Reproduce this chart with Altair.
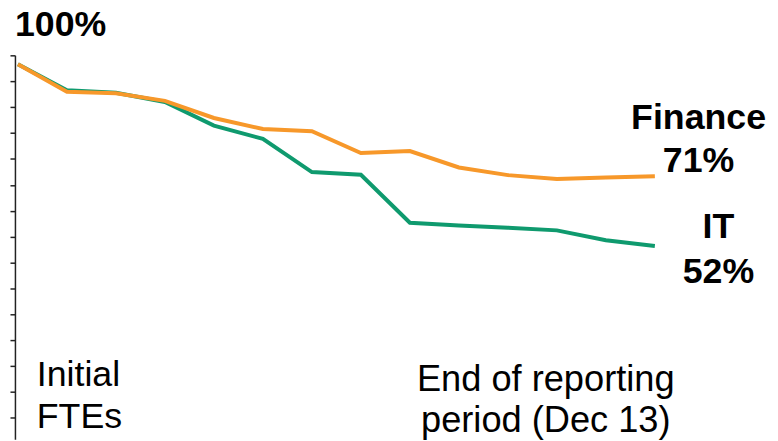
import altair as alt
import pandas as pd

# ---- data ----
steps = list(range(14))
it_values = [100, 93.2, 92.5, 90.1, 83.9, 80.4, 71.7, 71.0, 58.4, 57.7, 57.1, 56.4, 53.8, 52.3]
finance_values = [100, 92.8, 92.4, 90.4, 85.9, 83.0, 82.4, 76.7, 77.2, 72.9, 70.9, 69.9, 70.3, 70.6]
series_names = ["IT", "Finance"]
series_colors = ["#0F9A6E", "#F7982A"]

# ---- scale configuration ----
PLOT_H = 387
PX_PER_UNIT = 3.84
Y_TOP = 102.34
Y_BOTTOM = Y_TOP - PLOT_H / PX_PER_UNIT
TICK_STEP = 6.797
tick_values = [round(Y_TOP - TICK_STEP * k, 3) for k in range(15)]
X_MIN = -0.0608
X_MAX = 15.35

df_it = pd.DataFrame({"step": steps, "value": it_values, "series": "IT"})
df_fin = pd.DataFrame({"step": steps, "value": finance_values, "series": "Finance"})

FONT = "Liberation Sans"

x_enc = alt.X("step:Q", scale=alt.Scale(domain=[X_MIN, X_MAX], nice=False, zero=False), axis=None)
y_enc = alt.Y(
    "value:Q",
    scale=alt.Scale(domain=[Y_BOTTOM, Y_TOP], nice=False, zero=False),
    axis=alt.Axis(
        values=tick_values, labels=False, title=None, grid=False,
        domainColor="#222222", domainWidth=1.5, tickColor="#222222",
        tickWidth=1.5, tickSize=5,
    ),
)
color_enc = alt.Color(
    "series:N",
    scale=alt.Scale(domain=series_names, range=series_colors),
    legend=None,
)

it_line = alt.Chart(df_it).mark_line(strokeWidth=4).encode(x=x_enc, y=y_enc, color=color_enc)
fin_line = alt.Chart(df_fin).mark_line(strokeWidth=4).encode(x=x_enc, y=y_enc, color=color_enc)


def label(text, px, py, align, bold, size=36):
    return alt.Chart(pd.DataFrame({"t": [text]})).mark_text(
        font=FONT, fontSize=size, fontWeight="bold" if bold else "normal",
        align=align, baseline="alphabetic", color="#000000",
    ).encode(text="t:N", x=alt.value(px), y=alt.value(py))


labels = [
    label("100%", 0, -19, "left", True),
    label("Initial", 22, 333, "left", False),
    label("FTEs", 22, 376, "left", False),
    label("End of reporting", 535, 338, "center", False, 36.5),
    label("period (Dec 13)", 535, 380, "center", False, 36.5),
    label("Finance", 689, 74, "center", True),
    label("71%", 689, 118, "center", True),
    label("IT", 709, 184, "center", True),
    label("52%", 709, 229, "center", True),
]

chart = alt.layer(it_line, fin_line, *labels).properties(
    width=761,
    height=PLOT_H,
    autosize=alt.AutoSizeParams(type="none"),
    padding={"left": 7, "top": 46, "right": 0, "bottom": 0},
).configure_view(stroke=None)

chart.save("out.html", embed_options={"renderer": "svg", "actions": False})
